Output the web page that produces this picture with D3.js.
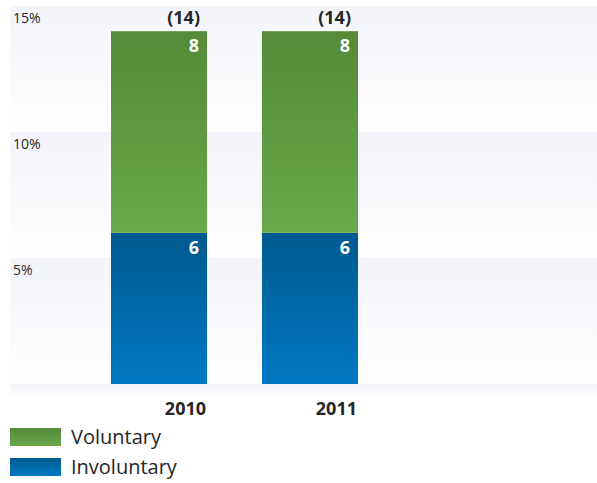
<!DOCTYPE html>
<html>
<head>
<meta charset="utf-8">
<script src="https://d3js.org/d3.v7.min.js"></script>
<style>
  body { margin: 0; background: #fff; }
  text { font-family: "Open Sans", "Noto Sans", sans-serif; fill: #262626; }
</style>
</head>
<body>
<svg id="chart" width="597" height="483"></svg>
<script>
const years = ["2010", "2011"];
const involuntary = [6, 6];
const voluntary = [8, 8];
const totals = ["(14)", "(14)"];
const ticks = [0, 5, 10, 15];
const seriesNames = ["Voluntary", "Involuntary"];

const svg = d3.select("#chart");
const defs = svg.append("defs");

function grad(id, c0, c1) {
  const g = defs.append("linearGradient").attr("id", id)
    .attr("x1", 0).attr("y1", 0).attr("x2", 0).attr("y2", 1);
  g.append("stop").attr("offset", "0%").attr("stop-color", c0);
  g.append("stop").attr("offset", "100%").attr("stop-color", c1);
}
grad("gGreen", "#548a39", "#6aa84a");
grad("gBlue", "#005a90", "#0079c2");
grad("gBand", "#f3f4fa", "#ffffff");

const y = d3.scaleLinear().domain([0, 15]).range([384, 6]);
const x = d3.scaleBand().domain(years).range([111, 358]).paddingInner(0.364).paddingOuter(0);

// background bands
const bandData = ticks.slice(1);
svg.selectAll("rect.band").data(bandData).enter().append("rect")
  .attr("class", "band")
  .attr("x", 10).attr("width", 587)
  .attr("y", d => y(d))
  .attr("height", d => y(d - 5) - y(d))
  .attr("fill", "url(#gBand)");
svg.append("rect").attr("x", 10).attr("width", 587)
  .attr("y", y(0)).attr("height", 14).attr("fill", "url(#gBand)");

svg.selectAll("text.tick").data(bandData).enter().append("text")
  .attr("class", "tick")
  .attr("x", 13).attr("y", d => y(d) + 17)
  .attr("font-size", 14)
  .text(d => d + "%");

// bars
const g = svg.append("g");
g.selectAll("rect.inv").data(years).enter().append("rect")
  .attr("x", d => x(d)).attr("width", x.bandwidth())
  .attr("y", (d, i) => y(involuntary[i]))
  .attr("height", (d, i) => y(0) - y(involuntary[i]))
  .attr("fill", "url(#gBlue)");
g.selectAll("rect.vol").data(years).enter().append("rect")
  .attr("x", d => x(d)).attr("width", x.bandwidth())
  .attr("y", (d, i) => y(involuntary[i] + voluntary[i]))
  .attr("height", (d, i) => y(involuntary[i]) - y(involuntary[i] + voluntary[i]))
  .attr("fill", "url(#gGreen)");

g.selectAll("text.vl").data(years).enter().append("text")
  .attr("x", d => x(d) + x.bandwidth() - 8)
  .attr("y", (d, i) => y(involuntary[i] + voluntary[i]) + 21)
  .attr("text-anchor", "end").attr("font-size", 18).attr("font-weight", "bold")
  .style("fill", "#fff")
  .text((d, i) => voluntary[i]);
g.selectAll("text.il").data(years).enter().append("text")
  .attr("x", d => x(d) + x.bandwidth() - 8)
  .attr("y", (d, i) => y(involuntary[i]) + 21)
  .attr("text-anchor", "end").attr("font-size", 18).attr("font-weight", "bold")
  .style("fill", "#fff")
  .text((d, i) => involuntary[i]);
g.selectAll("text.tot").data(years).enter().append("text")
  .attr("x", d => x(d) + x.bandwidth() - 7)
  .attr("y", (d, i) => y(involuntary[i] + voluntary[i]) - 7)
  .attr("text-anchor", "end").attr("font-size", 18).attr("font-weight", "bold")
  .text((d, i) => totals[i]);
g.selectAll("text.yr").data(years).enter().append("text")
  .attr("x", d => x(d) + x.bandwidth() - 1)
  .attr("y", 415)
  .attr("text-anchor", "end").attr("font-size", 18).attr("font-weight", "bold")
  .text(d => d);

// legend
const leg = svg.selectAll("g.leg").data(seriesNames).enter().append("g")
  .attr("transform", (d, i) => `translate(10,${428 + i * 30})`);
leg.append("rect").attr("width", 51).attr("height", 18)
  .attr("fill", (d, i) => i === 0 ? "url(#gGreen)" : "url(#gBlue)");
leg.append("text").attr("x", 61).attr("y", 16).attr("font-size", 20).text(d => d);
</script>
</body>
</html>
